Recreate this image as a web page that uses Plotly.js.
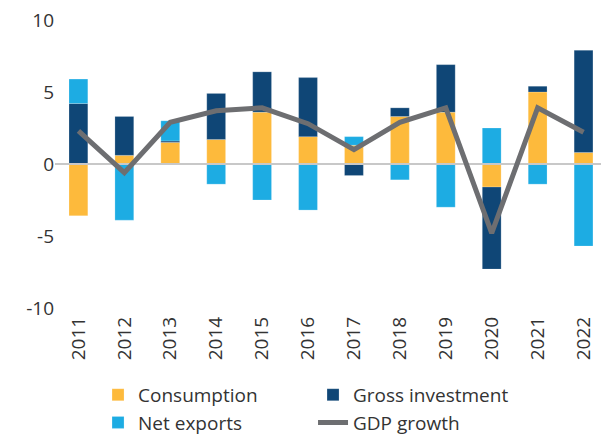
<!DOCTYPE html>
<html>
<head>
<meta charset="utf-8">
<script src="https://cdn.plot.ly/plotly-3.0.1.min.js"></script>
<style>
  html, body { margin: 0; padding: 0; background: #ffffff; }
  #chart { width: 601px; height: 435px; }
</style>
</head>
<body>
<div id="chart"></div>
<script>
// ---- data ----
const years = ["2011","2012","2013","2014","2015","2016","2017","2018","2019","2020","2021","2022"];
const consumption     = [-3.6, 0.6, 1.5, 1.7, 3.6, 1.9, 1.3, 3.3, 3.6, -1.6, 5.0, 0.8];
const grossInvestment = [ 4.2, 2.7, 0.1, 3.2, 2.8, 4.1, -0.8, 0.6, 3.3, -5.7, 0.4, 7.1];
const netExports      = [ 1.7, -3.9, 1.4, -1.4, -2.5, -3.2, 0.6, -1.1, -3.0, 2.5, -1.4, -5.7];
const gdpGrowth       = [ 2.3, -0.6, 2.9, 3.7, 3.9, 2.8, 1.0, 2.9, 3.9, -4.8, 3.9, 2.2];
const seriesNames = ["Consumption", "Gross investment", "Net exports", "GDP growth"];
const yTicks = [-10, -5, 0, 5, 10];

// ---- styles ----
const colors = { cons: "#FDBA3C", gi: "#0F4676", ne: "#1DACE3", gdp: "#6D6E71" };
const textColor = "#333333";
const fontFamily = "'Open Sans', 'DejaVu Sans', sans-serif";
const barW = 0.41;
const xRange = [-0.51, 11.38];
const yRange = [-10, 10];

function barTrace(name, vals, color) {
  return {
    type: "bar", name: name, x: years, y: vals,
    width: barW,
    marker: { color: color, line: { color: "rgba(255,255,255,0.35)", width: 0.6 } },
    xaxis: "x", yaxis: "y"
  };
}

const traces = [
  barTrace(seriesNames[0], consumption, colors.cons),
  barTrace(seriesNames[1], grossInvestment, colors.gi),
  barTrace(seriesNames[2], netExports, colors.ne),
  {
    type: "scatter", mode: "lines", name: seriesNames[3],
    x: years, y: gdpGrowth,
    line: { color: colors.gdp, width: 5 },
    xaxis: "x2", yaxis: "y2"
  }
];

const layout = {
  width: 601, height: 435,
  margin: { l: 55, r: 0, t: 20, b: 127 },
  paper_bgcolor: "#ffffff", plot_bgcolor: "rgba(0,0,0,0)",
  barmode: "relative",
  showlegend: true,
  font: { family: fontFamily, color: textColor, size: 19 },
  xaxis: {
    type: "category", range: xRange, fixedrange: true, automargin: false,
    showgrid: false, zeroline: false, showline: false,
    ticks: "", ticklen: 0, tickangle: -90, ticklabelstandoff: 4,
    tickfont: { size: 19, color: textColor }
  },
  yaxis: {
    range: yRange, fixedrange: true, automargin: false,
    tickvals: yTicks, ticktext: yTicks.map(String),
    showgrid: false, showline: false, ticks: "", ticklen: 0,
    zeroline: true, zerolinecolor: "#C8C8C8", zerolinewidth: 2.5,
    zerolinelayer: "above traces",
    ticklabelstandoff: 0,
    tickfont: { size: 19, color: textColor }
  },
  xaxis2: {
    type: "category", range: xRange, anchor: "y2", visible: false, fixedrange: true
  },
  yaxis2: {
    range: yRange, anchor: "x2", visible: false, fixedrange: true
  },
  legend: {
    orientation: "h", x: 0.0788, xanchor: "left",
    yref: "container", y: 0.136, yanchor: "top",
    entrywidth: 170, traceorder: "normal",
    font: { size: 19, color: textColor, family: fontFamily },
    bgcolor: "rgba(0,0,0,0)"
  },
  hovermode: false
};

Plotly.newPlot("chart", traces, layout, { displayModeBar: false, staticPlot: true });
</script>
</body>
</html>
